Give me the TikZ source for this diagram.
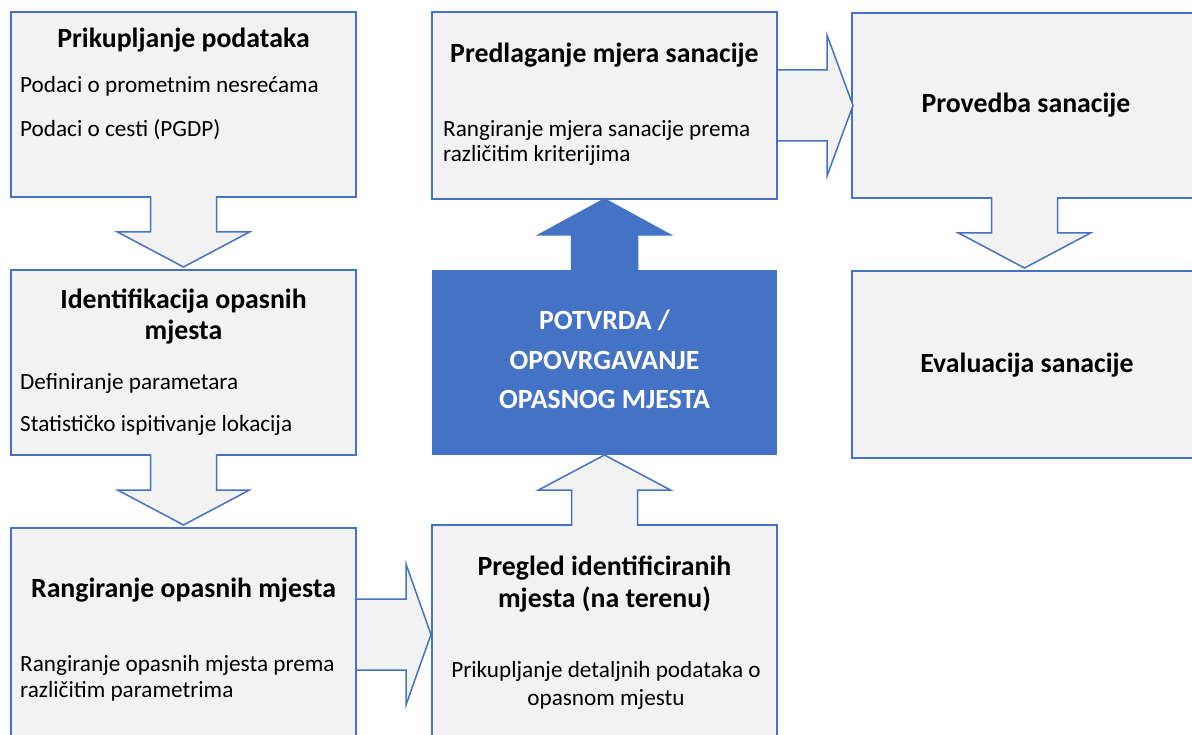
\documentclass[tikz,border=0pt]{standalone}
\usepackage{fontspec}
\setmainfont{Carlito}
\usetikzlibrary{calc,positioning}
\definecolor{boxblue}{HTML}{4472C4}
\definecolor{boxgray}{HTML}{F2F2F2}
\tikzset{
  stage/.style={draw=boxblue, fill=boxgray, line width=1.5pt, minimum width=345pt, anchor=north west, inner sep=0pt, outer sep=0pt},
  check/.style={fill=boxblue, minimum width=345pt, anchor=north west, inner sep=0pt, outer sep=0pt},
  title/.style={font=\bfseries\fontsize{27.8}{31.5}\selectfont, align=center, anchor=base, inner sep=0pt},
  body/.style={font=\fontsize{23.2}{26}\selectfont, anchor=base west, inner sep=0pt},
  arrowline/.style={draw=boxblue, line width=1.5pt, line join=miter},
}
% block arrows: #2 start on the box edge, #3 tip
\newcommand{\blockdown}[3][boxgray]{%
  \fill[#1] let \p1=(#2), \p2=(#3) in (\x1-33pt,\y1+1pt) -- (\x1-33pt,\y1-35pt) -- (\x1-66pt,\y1-35pt) -- (\x2,\y2) -- (\x1+66pt,\y1-35pt) -- (\x1+33pt,\y1-35pt) -- (\x1+33pt,\y1+1pt) -- cycle;
  \draw[arrowline] let \p1=(#2), \p2=(#3) in (\x1-33pt,\y1+0.75pt) -- (\x1-33pt,\y1-35pt) -- (\x1-66pt,\y1-35pt) -- (\x2,\y2) -- (\x1+66pt,\y1-35pt) -- (\x1+33pt,\y1-35pt) -- (\x1+33pt,\y1+0.75pt);
}
\newcommand{\blockup}[3][boxgray]{%
  \fill[#1] let \p1=(#2), \p2=(#3) in (\x1-33pt,\y1-1pt) -- (\x1-33pt,\y1+35pt) -- (\x1-66pt,\y1+35pt) -- (\x2,\y2) -- (\x1+66pt,\y1+35pt) -- (\x1+33pt,\y1+35pt) -- (\x1+33pt,\y1-1pt) -- cycle;
  \draw[arrowline] let \p1=(#2), \p2=(#3) in (\x1-33pt,\y1-0.75pt) -- (\x1-33pt,\y1+35pt) -- (\x1-66pt,\y1+35pt) -- (\x2,\y2) -- (\x1+66pt,\y1+35pt) -- (\x1+33pt,\y1+35pt) -- (\x1+33pt,\y1-0.75pt);
}
\newcommand{\blockright}[2]{%
  \filldraw[fill=boxgray, arrowline] let \p1=(#1), \p2=(#2) in (\x1,\y1+35.5pt) -- (\x1+50pt,\y1+35.5pt) -- (\x1+50pt,\y1+70.5pt) -- (\x2,\y2) -- (\x1+50pt,\y1-70.5pt) -- (\x1+50pt,\y1-35.5pt) -- (\x1,\y1-35.5pt) -- cycle;
}
\begin{document}
\begin{tikzpicture}[x=1pt,y=-1pt]
  \clip (0,0) rectangle (1192,735);
  \fill[white] (0,0) rectangle (1192,735);
  %Boxes
  \node[stage, minimum height=185pt] (prik) at (11,12) {};
  \node[stage, minimum height=185pt] (ident) at (11,270) {};
  \node[stage, minimum height=213pt] (rang) at (11,528) {};
  \node[stage, minimum height=219pt] (pregled) at (432,525) {};
  \node[check, minimum height=185pt] (potvrda) at (432,270) {};
  \node[stage, minimum height=187pt] (predl) at (432,12) {};
  \node[stage, minimum height=185pt] (provedba) at (852,13) {};
  \node[stage, minimum height=187pt] (eval) at (852,271) {};
  %Arrows
  \blockdown{prik.south}{[yshift=3pt]ident.north}
  \blockdown{ident.south}{[yshift=3pt]rang.north}
  \blockdown{provedba.south}{[yshift=3pt]eval.north}
  \blockright{rang.east}{[xshift=-1pt]pregled.west}
  \blockright{predl.east}{[xshift=1pt]provedba.west}
  \blockup{pregled.north}{potvrda.south}
  \blockup[boxblue]{potvrda.north}{predl.south}
  %Texts
  \node[title] (prikT) at (183.5,48) {Prikupljanje podataka};
  \node[body] (prik1) at (20,93) {Podaci o prometnim nesrećama};
  \node[body] (prik2) at (20,137) {Podaci o cesti (PGDP)};
  \node[title] (identT) at (183.5,340) {Identifikacija opasnih\\mjesta};
  \node[body] (ident1) at (20,389) {Definiranje parametara};
  \node[body] (ident2) at (20,431) {Statističko ispitivanje lokacija};
  \node[title] (rangT) at (183.5,597) {Rangiranje opasnih mjesta};
  \node[body, align=left] (rang1) at (20,697) {Rangiranje opasnih mjesta prema\\različitim parametrima};
  \node[title, font=\bfseries\fontsize{27.8}{32}\selectfont] (pregledT) at (604.5,607) {Pregled identificiranih\\mjesta (na terenu)};
  \node[body, align=center, anchor=base, font=\fontsize{23.2}{28}\selectfont] (pregled1) at (606,705) {Prikupljanje detaljnih podataka o\\opasnom mjestu};
  \node[title, text=white, font=\bfseries\fontsize{27.8}{39.5}\selectfont] (potvrdaT) at (604.5,409) {POTVRDA /\\OPOVRGAVANJE\\OPASNOG MJESTA};
  \node[title] (predlT) at (604.5,63) {Predlaganje mjera sanacije};
  \node[body, align=left, font=\fontsize{23.2}{25}\selectfont] (predl1) at (443,162) {Rangiranje mjera sanacije prema\\različitim kriterijima};
  \node[title] (provedbaT) at (1026,113) {Provedba sanacije};
  \node[title] (evalT) at (1027,373) {Evaluacija sanacije};
\end{tikzpicture}
\end{document}
